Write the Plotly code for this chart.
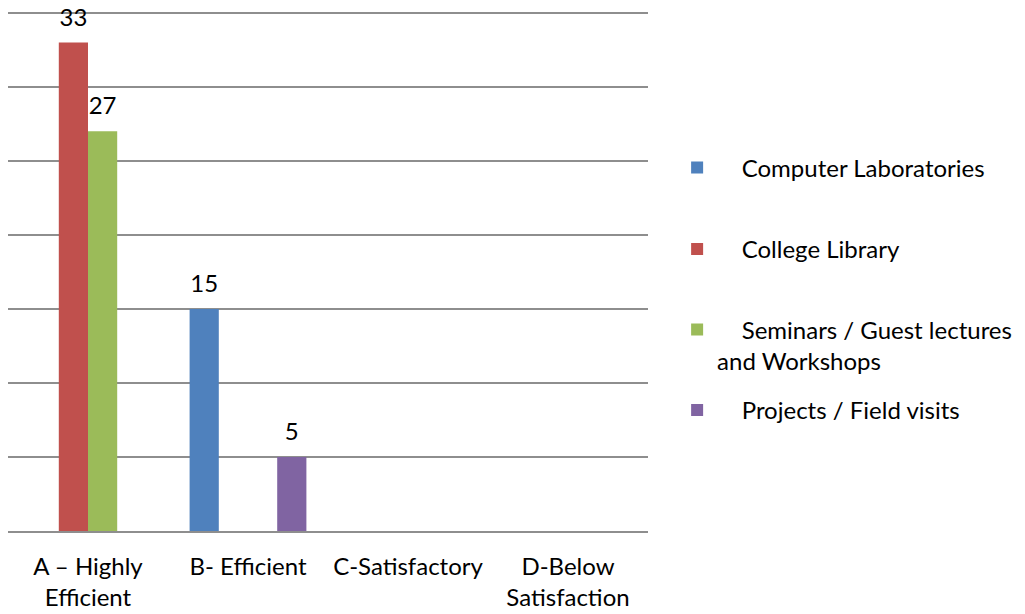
import plotly.graph_objects as go

categories = ["A – Highly<br>Efficient", "B- Efficient", "C-Satisfactory", "D-Below<br>Satisfaction"]
series_names = [
    "Computer Laboratories",
    "College Library",
    "Seminars / Guest lectures<br>and Workshops",
    "Projects / Field visits",
]
computer_labs = [0, 15, 0, 0]
college_library = [33, 0, 0, 0]
seminars = [27, 0, 0, 0]
projects = [0, 5, 0, 0]
colors = ["#4F81BD", "#C0504D", "#9BBB59", "#8064A2"]

FONT = "Lato"
FS = 24
GAP = 0.27
series_values = [computer_labs, college_library, seminars, projects]
legend_ids = ["legend", "legend2", "legend3", "legend4"]
legend_y = [0.697, 0.5405, 0.429, 0.2317]
NB = "\u00a0"

fig = go.Figure()
for name, vals, col, lg in zip(series_names, series_values, colors, legend_ids):
    fig.add_trace(go.Bar(
        x=categories,
        y=vals,
        name=NB * 4 + name,
        marker=dict(color=col, line=dict(width=0)),
        hoverinfo="x+y+name",
        legend=lg,
    ))
# data labels, grouped like the bars
for name, vals in zip(series_names, series_values):
    fig.add_trace(go.Scatter(
        x=categories,
        y=vals,
        mode="markers+text",
        text=[str(v) if v else "" for v in vals],
        textposition="top center",
        textfont=dict(family=FONT, size=FS, color="#000000"),
        marker=dict(size=16, opacity=0),
        showlegend=False,
        hoverinfo="skip",
        cliponaxis=False,
    ))

layout_legends = {}
for lg, ly in zip(legend_ids, legend_y):
    layout_legends[lg] = dict(
        x=1.0455, y=ly, xanchor="left", yanchor="top" if lg == "legend3" else "middle",
        font=dict(family=FONT, size=FS, color="#000000"),
        bgcolor="rgba(0,0,0,0)", borderwidth=0, valign="top",
    )

fig.update_layout(
    width=1017, height=606,
    margin=dict(l=0, r=377, t=2, b=83, autoexpand=False),
    paper_bgcolor="white", plot_bgcolor="white",
    barmode="group", bargap=GAP, bargroupgap=0,
    scattermode="group", scattergap=GAP,
    font=dict(family=FONT, size=FS, color="#000000"),
    showlegend=True,
    **layout_legends,
)
fig.update_yaxes(range=[0, 35.2], dtick=5, showticklabels=False, showgrid=True, automargin=False,
                 gridcolor="#8e8e8e", gridwidth=1.5, zeroline=False, showline=False, ticks="")
fig.update_xaxes(showgrid=False, showline=True, linecolor="#8e8e8e", linewidth=1.5, ticks="",
                 ticklabelstandoff=13, automargin=False,
                 tickfont=dict(family=FONT, size=FS, color="#000000"))

fig.write_html("out.html")
